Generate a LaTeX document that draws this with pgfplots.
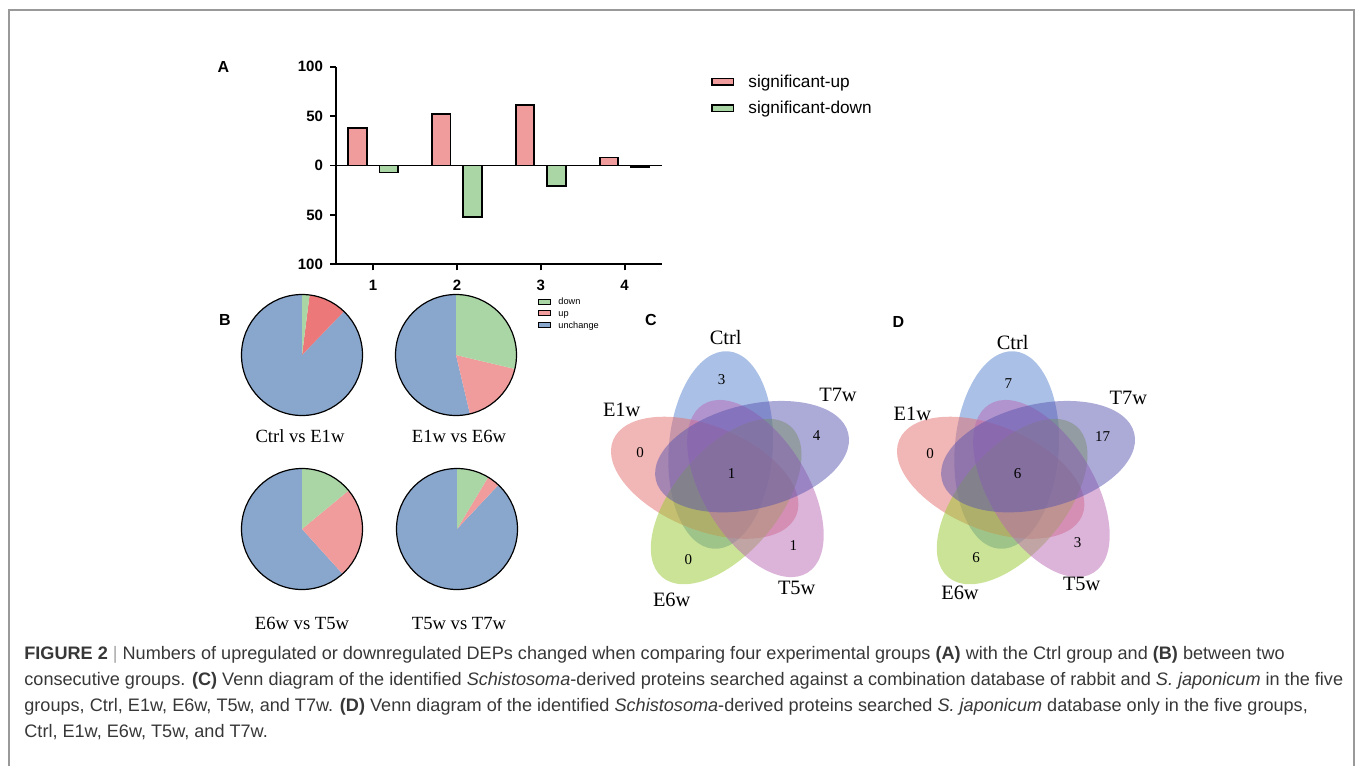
\documentclass[border=0pt]{standalone}
\usepackage{pgfplots}
\pgfplotsset{compat=1.18}
\usepackage{fontspec}
\setmainfont{Liberation Sans}
\newfontfamily\tnr{Liberation Serif}
\definecolor{upc}{RGB}{240,156,156}
\definecolor{downc}{RGB}{170,214,166}
\definecolor{piered}{RGB}{236,120,122}
\definecolor{piepink}{RGB}{240,156,156}
\definecolor{piegreen}{RGB}{170,214,166}
\definecolor{pieblue}{RGB}{137,166,204}
\definecolor{vCtrl}{RGB}{85,130,205}
\definecolor{vE1w}{RGB}{228,110,110}
\definecolor{vE6w}{RGB}{150,200,45}
\definecolor{vT5w}{RGB}{185,105,180}
\definecolor{vT7w}{RGB}{90,85,175}
\definecolor{capgray}{RGB}{55,55,55}

% pie: center x, center y (pt), down %, up %, red colour
\newcommand{\piechart}[5]{%
  \pgfmathsetmacro{\pa}{90-3.6*#3}%
  \pgfmathsetmacro{\pb}{90-3.6*(#3+#4)}%
  \begin{axis}[at={(#1,#2)}, anchor=center, hide axis, scale only axis,
    width=60.5pt, height=60.5pt, xmin=-1, xmax=1, ymin=-1, ymax=1, clip=false]
    \addplot[fill=pieblue, draw=none, domain=-270:\pb, samples=90, variable=\t] ({cos(\t)},{sin(\t)}) -- (axis cs:0,0) -- cycle;
    \addplot[fill=#5, draw=none, domain=\pb:\pa, samples=40, variable=\t] ({cos(\t)},{sin(\t)}) -- (axis cs:0,0) -- cycle;
    \addplot[fill=piegreen, draw=none, domain=\pa:90, samples=40, variable=\t] ({cos(\t)},{sin(\t)}) -- (axis cs:0,0) -- cycle;
    \draw[black, line width=0.6pt] (axis cs:0,0) circle[radius=30.25pt];
  \end{axis}}

\newcommand{\vennshape}{%
  \foreach \i/\c in {0/vCtrl, 4/vE1w, 3/vE6w, 2/vT5w, 1/vT7w} {
    \begin{scope}[rotate=-72*\i]
      \fill[\c, fill opacity=0.5, rotate around={85.7:(-5.55pt,12.45pt)}] (-5.55pt,12.45pt) ellipse [x radius=49.5pt, y radius=26pt];
    \end{scope}}}

\begin{document}
\begin{tikzpicture}
\useasboundingbox (0pt,0pt) rectangle (677.5pt,-383pt);

% ---------------- Panel A ----------------
\begin{axis}[at={(168pt,-132.15pt)}, anchor=south west, scale only axis,
  width=162.85pt, height=98.8pt,
  xmin=0.558, xmax=4.442, ymin=-100, ymax=100,
  axis x line*=bottom, axis y line*=left,
  axis line style={line width=0.9pt, black},
  every tick/.style={black, line width=0.9pt},
  tick align=outside, major tick length=3pt,
  xtick={1,2,3,4}, xticklabels={1,2,3,4},
  ytick={-100,-50,0,50,100}, yticklabels={100,50,0,50,100},
  ticklabel style={font=\fontsize{7.5}{9}\selectfont\bfseries},
  xticklabel style={yshift=-1.5pt},
  ybar, bar width=9.25pt, clip=false]
  \addplot[fill=upc, draw=black, line width=0.9pt, bar shift=-7.85pt] coordinates {(1,38) (2,52) (3,61) (4,8)};
  \addplot[fill=downc, draw=black, line width=0.9pt, bar shift=7.85pt] coordinates {(1,-7) (2,-52) (3,-21) (4,-1.5)};
  \draw[line width=0.9pt] (axis cs:0.558,0) -- (axis cs:4.442,0);
\end{axis}

% ---------------- Panel B pies ----------------
\piechart{151pt}{-177.5pt}{2.0}{10.2}{piered}
\piechart{228pt}{-177.5pt}{28.7}{17.6}{piepink}
\piechart{151pt}{-264.5pt}{14.0}{24.3}{piepink}
\piechart{228.5pt}{-264.5pt}{8.6}{3.4}{piepink}

% ---------------- Venn C and D ----------------
\begin{scope}[shift={(365.9pt,-237.45pt)}]\vennshape\end{scope}
\begin{scope}[shift={(508.9pt,-237.45pt)}]\vennshape\end{scope}

\begin{scope}[x=0.5pt, y=-0.5pt]
  % frame
  \draw[black!40, line width=0.6pt] (9,766) -- (9,10) -- (1354,10) -- (1354,766);

  % panel letters
  \begin{scope}[every node/.style={inner sep=0, font=\fontsize{8}{9}\selectfont\bfseries}]
    \node at (223.5,67) {A};
    \node at (225,320) {B};
    \node at (651,320) {C};
    \node at (898.5,321.5) {D};
  \end{scope}

  % legend A
  \draw[fill=upc, line width=0.8pt] (711.7,78.3) rectangle (733.3,85);
  \draw[fill=downc, line width=0.8pt] (711.7,104.8) rectangle (733.3,111.5);
  \node[anchor=base west, inner sep=0, font=\fontsize{8.6}{10}\selectfont] at (748,87) {significant-up};
  \node[anchor=base west, inner sep=0, font=\fontsize{8.6}{10}\selectfont] at (748,113.5) {significant-down};

  % legend B
  \draw[fill=piegreen, line width=0.5pt] (538.5,299.2) rectangle (550,304.2);
  \draw[fill=piepink, line width=0.5pt] (538.5,310.8) rectangle (550,315.8);
  \draw[fill=pieblue, line width=0.5pt] (538.5,322.5) rectangle (550,327.5);
  \begin{scope}[every node/.style={anchor=base west, inner sep=0, font=\fontsize{4.6}{5}\selectfont}]
    \node at (558,304.8) {down};
    \node at (558,316.4) {up};
    \node at (558,328.1) {unchange};
  \end{scope}

  % pie labels
  \begin{scope}[every node/.style={inner sep=0, font=\tnr\fontsize{9.3}{10}\selectfont}]
    \node at (300,436) {Ctrl vs E1w};
    \node at (459,436) {E1w vs E6w};
    \node at (302,623) {E6w vs T5w};
    \node at (459,623) {T5w vs T7w};
  \end{scope}

  % Venn labels
  \begin{scope}[every node/.style={inner sep=0, font=\tnr\fontsize{10.2}{11}\selectfont}]
    \node at (725.7,338) {Ctrl};
    \node at (838,395) {T7w};
    \node at (621.7,410) {E1w};
    \node at (671.7,600) {E6w};
    \node at (796.7,588) {T5w};
    \node at (1012.7,342.7) {Ctrl};
    \node at (1128.3,398.3) {T7w};
    \node at (912.3,414) {E1w};
    \node at (960,592.7) {E6w};
    \node at (1081.7,584) {T5w};
  \end{scope}
  \begin{scope}[every node/.style={inner sep=0, font=\tnr\fontsize{7.5}{8}\selectfont}]
    \node at (721.7,380) {3};
    \node at (816.7,436) {4};
    \node at (640,453) {0};
    \node at (688.3,560) {0};
    \node at (793.3,546) {1};
    \node at (731.7,474) {1};
    \node at (1008.3,384) {7};
    \node at (1102.7,436.7) {17};
    \node at (930,454) {0};
    \node at (1017.7,474) {6};
    \node at (976,557.3) {6};
    \node at (1077.7,542.7) {3};
  \end{scope}

  % caption
  \begin{scope}[every node/.style={anchor=base west, inner sep=0, text=capgray, font=\fontsize{9.05}{10}\selectfont}]
    \node at (24,659) {\textbf{FIGURE 2} {\color{black!35}|} Numbers of upregulated or downregulated DEPs changed when comparing four experimental groups \textbf{(A)} with the Ctrl group and \textbf{(B)} between two};
    \node at (24,685.5) {consecutive groups. \textbf{(C)} Venn diagram of the identified \textit{Schistosoma}-derived proteins searched against a combination database of rabbit and \textit{S. japonicum} in the five};
    \node at (24,711.5) {groups, Ctrl, E1w, E6w, T5w, and T7w. \textbf{(D)} Venn diagram of the identified \textit{Schistosoma}-derived proteins searched \textit{S. japonicum} database only in the five groups,};
    \node at (24,737) {Ctrl, E1w, E6w, T5w, and T7w.};
  \end{scope}
\end{scope}
\end{tikzpicture}
\end{document}
